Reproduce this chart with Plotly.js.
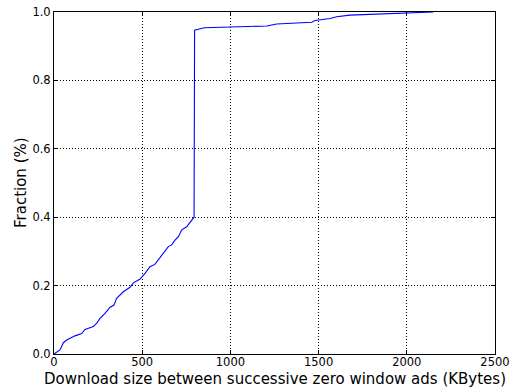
<!DOCTYPE html>
<html>
<head>
<meta charset="utf-8">
<script src="https://cdn.plot.ly/plotly-3.0.1.min.js"></script>
<style>
  html, body { margin: 0; padding: 0; background: #fff; }
  #chart { width: 512px; height: 387px; }
</style>
</head>
<body>
<div id="chart"></div>
<script>
// Empirical CDF of download size between successive zero-window advertisements
const sizeKB = [0, 34, 53, 72, 119, 157, 176, 223, 242, 261, 289, 317, 340, 355, 393, 431, 450, 488,
  516, 544, 572, 591, 620, 648, 667, 686, 705, 724, 752, 794, 797, 851, 1206, 1262, 1461, 1480,
  1565, 1602, 1678, 1999, 2150];
const fraction = [0, 0.012, 0.033, 0.041, 0.053, 0.06, 0.072, 0.08, 0.09, 0.104, 0.119, 0.136, 0.143,
  0.163, 0.182, 0.195, 0.208, 0.219, 0.236, 0.255, 0.262, 0.275, 0.292, 0.314, 0.319, 0.333, 0.343,
  0.363, 0.372, 0.4, 0.947, 0.954, 0.959, 0.965, 0.97, 0.975, 0.981, 0.986, 0.991, 0.996, 1.0];

const xTicks = [0, 500, 1000, 1500, 2000, 2500];
const yTicks = [0, 0.2, 0.4, 0.6, 0.8, 1.0];
const xLabels = ['0', '500', '1000', '1500', '2000', '2500'];
const yLabels = ['0.0', '0.2', '0.4', '0.6', '0.8', '1.0'];
const xTitle = 'Download size between successive zero window ads (KBytes)';
const yTitle = 'Fraction (%)';

const font = { family: 'DejaVu Sans, sans-serif', color: '#000' };
const titleFont = Object.assign({ size: 15 }, font);

const axisCommon = {
  showline: true, linecolor: '#000', linewidth: 1, mirror: 'ticks',
  showgrid: true, gridcolor: '#000', griddash: '1px,2px', gridwidth: 1,
  zeroline: false, ticks: 'inside', ticklen: 4, tickcolor: '#000', tickwidth: 1,
  tickfont: Object.assign({ size: 11.5 }, font),
  tickmode: 'array'
};

Plotly.newPlot('chart', [{
  x: sizeKB, y: fraction, type: 'scatter', mode: 'lines',
  line: { color: '#0000ff', width: 1.1 }, hoverinfo: 'skip'
}], {
  width: 512, height: 387,
  margin: { l: 54, r: 17, t: 12, b: 33 },
  paper_bgcolor: '#fff', plot_bgcolor: '#fff',
  showlegend: false,
  xaxis: Object.assign({}, axisCommon, {
    range: [0, 2500], tickvals: xTicks, ticktext: xLabels, ticklabelstandoff: -3
  }),
  yaxis: Object.assign({}, axisCommon, {
    range: [0, 1], tickvals: yTicks, ticktext: yLabels, ticklabelstandoff: 0
  }),
  // axis titles placed as paper-anchored text
  annotations: [
    { text: xTitle, xref: 'paper', yref: 'paper', x: 0.5, y: -0.0735,
      xanchor: 'center', yanchor: 'middle', showarrow: false, font: titleFont, borderpad: 0 },
    { text: yTitle, xref: 'paper', yref: 'paper', x: -0.0748, y: 0.5, textangle: -90,
      xanchor: 'center', yanchor: 'middle', showarrow: false, font: titleFont, borderpad: 0 }
  ]
}, { displayModeBar: false, staticPlot: true });
</script>
</body>
</html>
